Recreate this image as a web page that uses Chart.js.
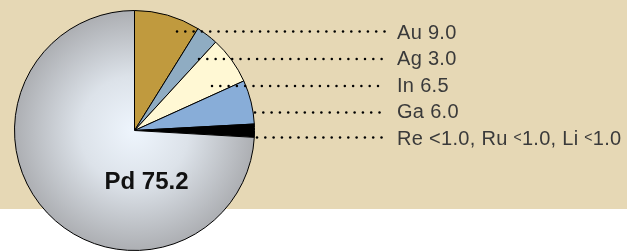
<!DOCTYPE html>
<html>
<head>
<meta charset="utf-8">
<script src="https://cdn.jsdelivr.net/npm/chart.js@4.4.1/dist/chart.umd.min.js"></script>
<style>
  html, body { margin: 0; padding: 0; background: #ffffff; }
  #wrap { width: 627px; height: 251px; position: relative; }
</style>
</head>
<body>
<div id="wrap"><canvas id="alloyChart" width="627" height="251"></canvas></div>
<script>
// composition of the alloy (wt %)
const elements = ['Au', 'Ag', 'In', 'Ga', 'Re, Ru, Li', 'Pd'];
const shares = [9.0, 3.0, 6.5, 6.0, 1.8, 75.2];
const sliceColors = ['#C09A3E', '#8FACC2', '#FFF8D4', '#88ADD8', '#000000', null];

// text printed next to each dotted leader
const labelTexts = ['Au 9.0', 'Ag 3.0', 'In 6.5', 'Ga 6.0'];

function pdGradient(chart) {
    const area = chart.chartArea;
    if (!area) return '#C8CCD2';
    const cx = (area.left + area.right) / 2;
    const cy = (area.top + area.bottom) / 2;
    const g = chart.ctx.createRadialGradient(cx, cy, 0, cx, cy, 121);
    g.addColorStop(0, '#EEF5FD');
    g.addColorStop(0.45, '#DCE2E9');
    g.addColorStop(1, '#ACAEB2');
    return g;
}

// background panel, leaders and labels
const decor = {
    id: 'decor',
    beforeDraw(chart) {
        const c = chart.ctx;
        c.save();
        c.fillStyle = '#E6D8B5';
        c.fillRect(0, 0, chart.width, 209);
        c.restore();
    },
    afterDraw(chart) {
        const c = chart.ctx;
        const leaders = [[177, 31.5], [199, 59], [212, 86], [255, 112.5], [257, 137.5]];
        c.save();
        c.fillStyle = '#000';
        leaders.forEach(function (l) {
            for (let x = l[0]; x <= 386; x += 8.3) {
                c.beginPath();
                c.arc(x, l[1], 1.25, 0, Math.PI * 2);
                c.fill();
            }
        });

        c.fillStyle = '#3a3a3a';
        c.textBaseline = 'alphabetic';
        c.letterSpacing = '0.3px';
        c.font = '20px "Liberation Sans", Arial, sans-serif';
        const baselines = [38.5, 65, 91.5, 118, 144.5];
        labelTexts.forEach(function (t, i) {
            c.fillText(t, 397, baselines[i]);
        });

        // last label, with smaller raised "<" signs for Ru and Li
        const parts = [
            ['Re ', 20, 0], ['<', 20, 0], ['1.0, Ru ', 20, 0], ['<', 14, -2.5],
            ['1.0, Li ', 20, 0], ['<', 14, -2.5], ['1.0', 20, 0]
        ];
        let x = 397;
        parts.forEach(function (p) {
            c.font = p[1] + 'px "Liberation Sans", Arial, sans-serif';
            c.fillText(p[0], x, baselines[4] + p[2]);
            x += c.measureText(p[0]).width;
        });

        c.letterSpacing = '0px';
        c.fillStyle = '#111';
        c.font = 'bold 24px "Liberation Sans", Arial, sans-serif';
        c.textAlign = 'center';
        c.fillText('Pd ' + shares[5].toFixed(1), 146.5, 188.5);
        c.restore();
    }
};

const ctx = document.getElementById('alloyChart').getContext('2d');
const alloyChart = new Chart(ctx, {
    type: 'pie',
    data: {
        labels: elements,
        datasets: [{
            data: shares,
            backgroundColor: function (context) {
                const i = context.dataIndex;
                if (i === 5) return pdGradient(context.chart);
                return sliceColors[i];
            },
            borderColor: '#000000',
            borderWidth: 1
        }]
    },
    options: {
        responsive: false,
        animation: false,
        layout: {
            padding: { left: 14, right: 372, top: 10, bottom: 0 }
        },
        plugins: {
            legend: { display: false },
            tooltip: { enabled: false }
        }
    },
    plugins: [decor]
});
</script>
</body>
</html>
